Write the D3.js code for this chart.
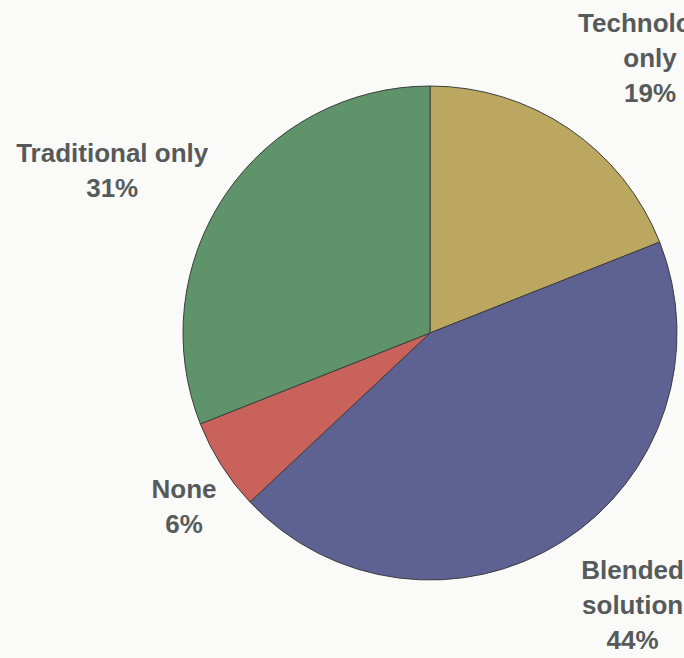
<!DOCTYPE html>
<html>
<head>
<meta charset="utf-8">
<script src="https://cdn.jsdelivr.net/npm/d3@7"></script>
<style>
  html, body { margin: 0; padding: 0; background: #fafaf8; }
  svg { display: block; }
  text { font-family: "Liberation Sans", Arial, sans-serif; font-weight: bold; fill: #575a5a; }
</style>
</head>
<body>
<svg id="chart" width="684" height="658"></svg>
<script>
// Share of respondents by solution type
const categories = ["Technology only", "Blended solution", "None", "Traditional only"];
const labelLines = [["Technology", "only"], ["Blended", "solution"], ["None"], ["Traditional only"]];
const values = [19, 44, 6, 31];
const colors = ["#bba75f", "#5d6293", "#c9625b", "#5f9369"];

const width = 684, height = 658;
const cx = 430, cy = 333, radius = 247;

const svg = d3.select("#chart");
const g = svg.append("g").attr("transform", `translate(${cx},${cy})`);

const pie = d3.pie().value(d => d.value).sort(null);
const arc = d3.arc().innerRadius(0).outerRadius(radius);

const data = categories.map((c, i) => ({ name: c, value: values[i], lines: labelLines[i], color: colors[i] }));
const arcs = pie(data);

g.selectAll("path.slice")
  .data(arcs)
  .join("path")
  .attr("class", "slice")
  .attr("d", arc)
  .attr("fill", d => d.data.color)
  .attr("stroke", "#3d3d3d")
  .attr("stroke-width", 1);

// Label placement: distance from the centre and angular offset from each slice's mid-angle
const labelRadius = { "Technology only": 352, "Blended solution": 339, "None": 301, "Traditional only": 357 };
const labelShift = { "Technology only": 4.5, "Blended solution": -4.3, "None": -2.8, "Traditional only": -7.1 };
const lineH = 35;

arcs.forEach(a => {
  const mid = (a.startAngle + a.endAngle) / 2 + labelShift[a.data.name] * Math.PI / 180;
  const r = labelRadius[a.data.name];
  const x = r * Math.sin(mid);
  const y = -r * Math.cos(mid);
  const lines = a.data.lines.concat([a.data.value + "%"]);
  const t = g.append("text")
    .attr("text-anchor", "middle")
    .attr("font-size", 26);
  const first = y + 9 - (lines.length - 1) * lineH / 2;
  lines.forEach((s, i) => {
    t.append("tspan").attr("x", x).attr("y", first + i * lineH).text(s);
  });
});
</script>
</body>
</html>
